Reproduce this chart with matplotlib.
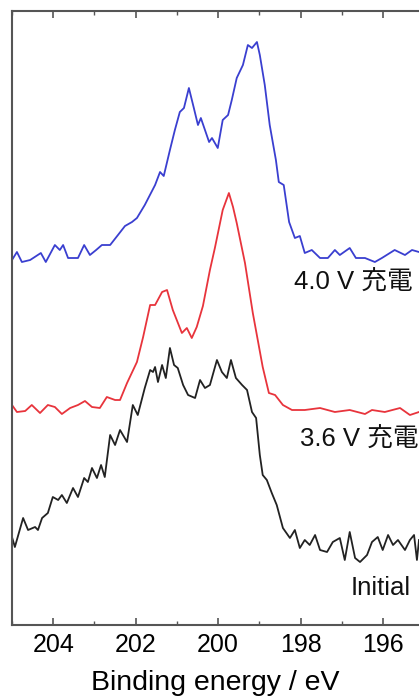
import numpy as np
import matplotlib
matplotlib.use('Agg')
import matplotlib.pyplot as plt
from matplotlib.ticker import MultipleLocator

plt.rcParams['font.family'] = ['Liberation Sans', 'Noto Sans CJK JP', 'DejaVu Sans']

# N 1s spectra (binding energy in eV, intensity in arbitrary units, already stacked)
be_40 = [205.00, 204.88, 204.76, 204.56, 204.30, 204.18, 203.96, 203.84, 203.76, 203.64,
         203.40, 203.25, 203.11, 202.96, 202.82, 202.62, 202.43, 202.26, 202.09, 201.97,
         201.78, 201.53, 201.41, 201.32, 201.17, 201.05, 200.93, 200.83, 200.71, 200.59,
         200.49, 200.42, 200.32, 200.22, 200.15, 200.01, 199.89, 199.76, 199.67, 199.55,
         199.40, 199.28, 199.18, 199.06, 198.99, 198.87, 198.75, 198.60, 198.53, 198.41,
         198.28, 198.14, 198.02, 197.90, 197.73, 197.53, 197.34, 197.17, 197.05, 196.81,
         196.66, 196.44, 196.20, 196.03, 195.72, 195.47, 195.30, 195.13]
int_40 = [365, 373, 363, 365, 372, 363, 380, 375, 380, 367,
          367, 380, 370, 375, 380, 380, 390, 399, 403, 407,
          420, 440, 453, 449, 475, 495, 513, 517, 537, 517,
          500, 507, 495, 483, 487, 477, 505, 510, 525, 547,
          560, 580, 577, 583, 570, 540, 500, 465, 443, 440,
          403, 387, 389, 372, 375, 367, 367, 375, 370, 377,
          367, 367, 363, 367, 375, 370, 375, 373]

be_36 = [205.00, 204.88, 204.68, 204.52, 204.32, 204.13, 203.96, 203.79, 203.59, 203.40,
         203.23, 203.06, 202.87, 202.70, 202.50, 202.38, 202.21, 201.97, 201.82, 201.65,
         201.53, 201.36, 201.24, 201.10, 200.88, 200.76, 200.64, 200.52, 200.37, 200.20,
         200.08, 199.89, 199.74, 199.64, 199.55, 199.35, 199.16, 198.92, 198.77, 198.62,
         198.43, 198.21, 197.90, 197.53, 197.17, 196.81, 196.44, 196.27, 195.96, 195.59,
         195.35, 195.13]
int_36 = [220, 213, 214, 220, 212, 220, 218, 211, 217, 220,
          224, 218, 217, 228, 225, 225, 242, 263, 288, 320,
          320, 333, 335, 315, 292, 297, 287, 298, 319, 355,
          377, 415, 432, 418, 402, 362, 312, 258, 232, 230,
          220, 215, 215, 217, 213, 215, 211, 215, 213, 217,
          210, 213]

be_init = [205.00, 204.93, 204.73, 204.61, 204.44, 204.37, 204.27, 204.13, 204.01, 203.88,
           203.79, 203.67, 203.52, 203.40, 203.25, 203.16, 203.06, 202.94, 202.84, 202.75,
           202.62, 202.50, 202.38, 202.21, 202.07, 201.95, 201.78, 201.65, 201.58, 201.53,
           201.46, 201.36, 201.27, 201.17, 201.07, 200.98, 200.85, 200.73, 200.56, 200.44,
           200.32, 200.20, 200.03, 199.91, 199.79, 199.69, 199.57, 199.42, 199.30, 199.18,
           199.08, 198.99, 198.92, 198.82, 198.70, 198.58, 198.43, 198.26, 198.14, 198.02,
           197.90, 197.78, 197.65, 197.53, 197.36, 197.22, 197.05, 196.93, 196.81, 196.68,
           196.56, 196.39, 196.27, 196.13, 196.01, 195.88, 195.76, 195.64, 195.47, 195.35,
           195.25, 195.18, 195.13]
int_init = [88, 78, 107, 95, 98, 95, 107, 112, 128, 125,
            130, 122, 137, 128, 147, 143, 157, 147, 160, 148,
            190, 180, 195, 183, 220, 210, 237, 255, 253, 258,
            243, 260, 247, 277, 260, 257, 240, 230, 227, 245,
            237, 240, 265, 253, 247, 265, 247, 240, 235, 213,
            207, 170, 150, 145, 132, 120, 97, 87, 95, 77,
            85, 80, 90, 75, 73, 83, 87, 65, 93, 67,
            63, 70, 83, 88, 75, 90, 80, 85, 75, 85,
            90, 65, 85]

labels = ['4.0 V 充電', '3.6 V 充電', 'Initial']
label_x = [195.28, 195.14, 195.33]
label_y = [342, 185, 37]

fig = plt.figure(figsize=(4.19, 6.97), dpi=100)
ax = fig.add_axes([0.0286, 0.1033, 0.9714, 0.8809])

ax.plot(be_40, int_40, color='#3a3fd0', lw=1.3, solid_joinstyle='round')
ax.plot(be_36, int_36, color='#e8343c', lw=1.3, solid_joinstyle='round')
ax.plot(be_init, int_init, color='#222222', lw=1.3, solid_joinstyle='round')

for lab, xx, yy in zip(labels, label_x, label_y):
    ax.text(xx, yy, lab, ha='right', va='center', fontsize=18.5, color='#111111')

ax.set_xlim(205, 195.13)
ax.set_ylim(0, 614)
ax.xaxis.set_major_locator(MultipleLocator(2))
ax.xaxis.set_minor_locator(MultipleLocator(1))
ax.set_yticks([])
ax.tick_params(axis='x', which='both', direction='in', top=True, color='#555555',
               labelsize=18, pad=6)
ax.tick_params(axis='x', which='major', length=5, width=1.2)
ax.tick_params(axis='x', which='minor', length=3, width=1.0)
for s in ['left', 'top', 'bottom']:
    ax.spines[s].set_color('#555555')
    ax.spines[s].set_linewidth(1.5)
ax.spines['right'].set_visible(False)
ax.set_xlabel('Binding energy / eV', fontsize=20.5, labelpad=9)

fig.savefig('out.png', dpi=100)
